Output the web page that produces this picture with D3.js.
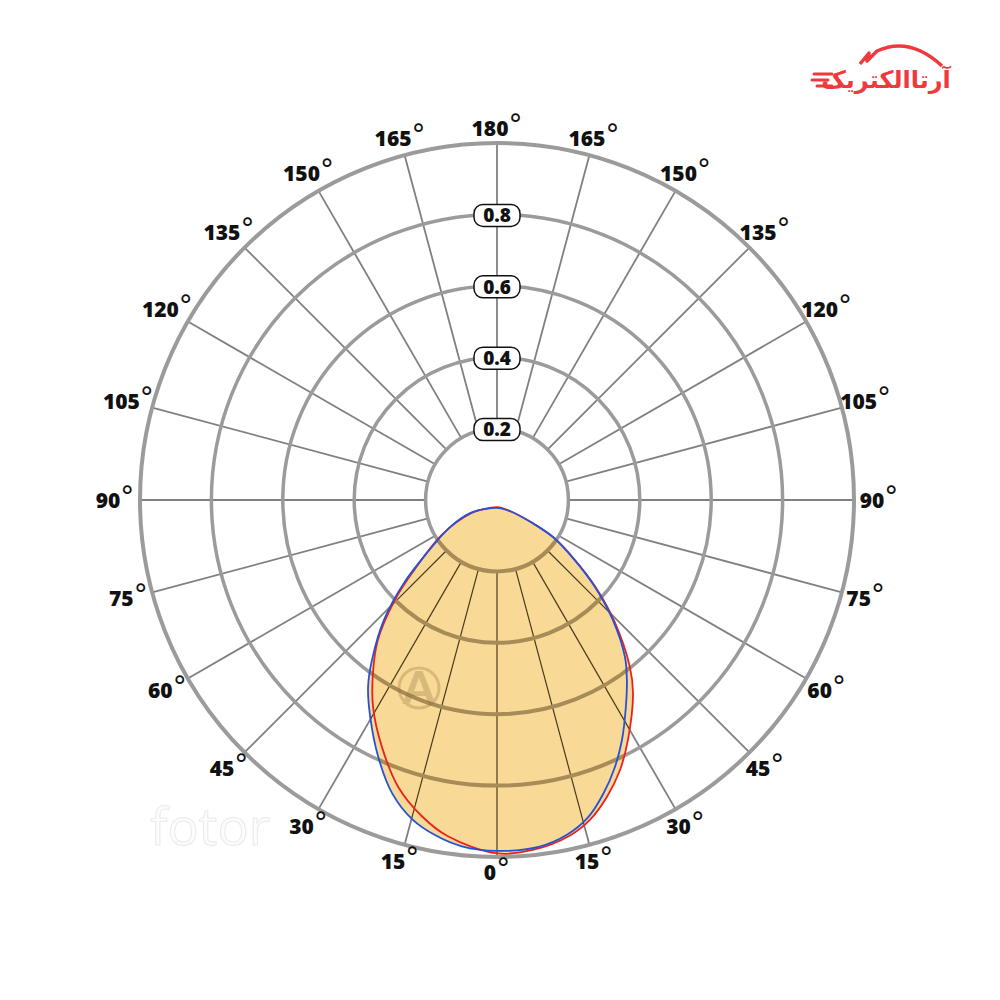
<!DOCTYPE html>
<html><head><meta charset="utf-8">
<script src="https://cdn.jsdelivr.net/npm/d3@7"></script>
<style>html,body{margin:0;padding:0;background:#fff;}svg{display:block;}</style>
</head><body>
<svg id="chart" width="1000" height="1000"></svg>
<script>
// ---- data ----
const radialTicks = [0.2, 0.4, 0.6, 0.8];
const radialTickLabels = ["0.2", "0.4", "0.6", "0.8"];
const gridCircles = [0.2, 0.4, 0.6, 0.8, 1.0];
const spokeAngles = d3.range(0, 360, 15);
const angleLabelsRight = [0, 15, 30, 45, 60, 75, 90, 105, 120, 135, 150, 165, 180];
const angleLabelsLeft = [15, 30, 45, 60, 75, 90, 105, 120, 135, 150, 165];
// outline of the blue curve: angle from nadir (deg, + = right) and relative intensity
const blueAngles = [0, 50, 57, 56.5, 52.6, 48.4, 44, 39.2, 35.8, 31.9, 27.5, 23.8, 19.9, 15.9, 11.8, 7, 0, -5.8, -10.4, -14.9, -19.7, -24.8, -30.3, -34.6, -38, -43.3, -48.3, -52.9, -60, -64, -57];
const blueValues = [0.022, 0.05, 0.12, 0.188, 0.268, 0.367, 0.467, 0.567, 0.622, 0.683, 0.758, 0.818, 0.875, 0.926, 0.958, 0.978, 0.983, 0.975, 0.955, 0.925, 0.872, 0.793, 0.704, 0.636, 0.569, 0.462, 0.349, 0.246, 0.152, 0.084, 0.048];
// outline of the red curve
const redAngles = [0, 50, 57, 56.5, 52.6, 48.4, 44, 38.5, 35.2, 28.6, 24.5, 20.3, 16.2, 12.2, 6, 0, -8.3, -13.3, -19, -25, -30.9, -35.6, -40.4, -45.6, -49.3, -58, -63, -56];
const redValues = [0.02, 0.048, 0.12, 0.19, 0.272, 0.372, 0.474, 0.598, 0.661, 0.766, 0.831, 0.887, 0.933, 0.962, 0.985, 0.99, 0.952, 0.911, 0.85, 0.763, 0.676, 0.597, 0.515, 0.4, 0.314, 0.18, 0.08, 0.046];

// ---- layout ----
const cx = 497, cy = 500, R = 357;
const svg = d3.select("#chart");
const g = svg.append("g").attr("transform", `translate(${cx},${cy})`);
const r = d3.scaleLinear().domain([0, 1]).range([0, R]);
const toA = d3.scaleLinear().domain([0, 180]).range([Math.PI, 0]);
const pt = (deg, v) => { const a = toA(deg); return [r(v) * Math.sin(a), -r(v) * Math.cos(a)]; };

function drawGrid(sel, circColor, circW, spokeColor, spokeW) {
  sel.selectAll("line.spoke").data(spokeAngles).join("line")
    .attr("class", "spoke")
    .attr("x1", d => pt(d, 0.2)[0]).attr("y1", d => pt(d, 0.2)[1])
    .attr("x2", d => pt(d, 1)[0]).attr("y2", d => pt(d, 1)[1])
    .attr("stroke", spokeColor).attr("stroke-width", spokeW);
  sel.selectAll("circle.ring").data(gridCircles).join("circle")
    .attr("class", "ring").attr("r", d => r(d))
    .attr("fill", "none").attr("stroke", circColor)
    .attr("stroke-width", d => d === 1 ? circW + 0.5 : circW);
}
drawGrid(g.append("g"), "#9b9b9b", 3.5, "#808080", 1.8);

const line = d3.lineRadial()
  .angle(d => toA(d[0])).radius(d => r(d[1]))
  .curve(d3.curveCatmullRomClosed.alpha(0.5));
const blue = d3.zip(blueAngles, blueValues);
const red = d3.zip(redAngles, redValues);

g.append("path").attr("d", line(blue)).attr("fill", "#f9d996");
g.append("path").attr("d", line(red)).attr("fill", "#f9d996");

const defs = svg.append("defs");
const cp = defs.append("clipPath").attr("id", "lobe");
cp.append("path").attr("d", line(blue));
cp.append("path").attr("d", line(red));
drawGrid(g.append("g").attr("clip-path", "url(#lobe)"), "#a88c58", 4, "#4a3a1c", 1.2);

// faint watermark
const wm = g.append("g").attr("transform", "translate(-78,188)").attr("opacity", 0.28);
wm.append("circle").attr("r", 20).attr("fill", "none").attr("stroke", "#8a6a30").attr("stroke-width", 3);
wm.append("text").attr("y", 16).attr("text-anchor", "middle").attr("font-family", "Lato, sans-serif")
  .attr("font-weight", 900).attr("font-size", 46).attr("fill", "#8a6a30").text("A");

g.append("path").attr("d", line(red)).attr("fill", "none").attr("stroke", "#e8231f").attr("stroke-width", 1.8);
g.append("path").attr("d", line(blue)).attr("fill", "none").attr("stroke", "#2352db").attr("stroke-width", 1.8);

// radial labels
const rl = g.append("g").selectAll("g").data(radialTicks).join("g")
  .attr("transform", d => `translate(0,${-r(d) + 1})`);
rl.append("rect").attr("x", -23).attr("y", -11).attr("width", 46).attr("height", 22)
  .attr("rx", 9).attr("fill", "#fff").attr("stroke", "#111").attr("stroke-width", 1.5);
rl.append("text").attr("text-anchor", "middle").attr("dy", "0.36em")
  .attr("font-family", "'Open Sans', sans-serif").attr("font-weight", 800).attr("font-size", 19)
  .attr("fill", "#111").text((d, i) => radialTickLabels[i]);

// angle labels
const labelData = angleLabelsRight.map(d => ({ deg: d, text: String(d) }))
  .concat(angleLabelsLeft.map(d => ({ deg: -d, text: String(d) })));
const lr = d => (372 + 10 * Math.abs(Math.sin(d.deg * Math.PI / 180))) / R;
const lt = g.append("g").selectAll("text").data(labelData).join("text")
  .attr("x", d => pt(d.deg, lr(d))[0])
  .attr("y", d => pt(d.deg, lr(d))[1])
  .attr("dy", "0.36em").attr("text-anchor", "middle")
  .attr("font-family", "'Open Sans', sans-serif").attr("font-weight", 800).attr("font-size", 21)
  .attr("fill", "#111");
lt.append("tspan").text(d => d.text);
lt.append("tspan").attr("dy", -2).attr("font-family", "'DejaVu Sans', sans-serif")
  .attr("font-weight", 400).attr("font-size", 28).text("°");

// fotor watermark
svg.append("text").attr("x", 210).attr("y", 845).attr("text-anchor", "middle")
  .attr("font-family", "'Open Sans', sans-serif").attr("font-size", 52).attr("font-weight", 400)
  .attr("fill", "#fcfcfc").attr("stroke", "#eaeaea").attr("stroke-width", 1).text("fotor");

// logo
const logo = svg.append("g");
logo.append("path").attr("d", "M860,64 L869,53 L867,61 L877,51 Q910,36 942,66")
  .attr("fill", "none").attr("stroke", "#ee3a3c").attr("stroke-width", 3.5).attr("stroke-linejoin", "round");
[[814, 74, 832], [812, 80, 828], [817, 86, 832]].forEach(s =>
  logo.append("line").attr("x1", s[0]).attr("y1", s[1]).attr("x2", s[2]).attr("y2", s[1])
    .attr("stroke", "#ee3a3c").attr("stroke-width", 3).attr("stroke-linecap", "round"));
logo.append("text").attr("x", 886).attr("y", 88).attr("text-anchor", "middle")
  .attr("font-family", "'DejaVu Sans', sans-serif").attr("font-weight", 700).attr("font-size", 24)
  .attr("fill", "#ee3a3c").text("آرتاالکتریک");
</script>
</body></html>
